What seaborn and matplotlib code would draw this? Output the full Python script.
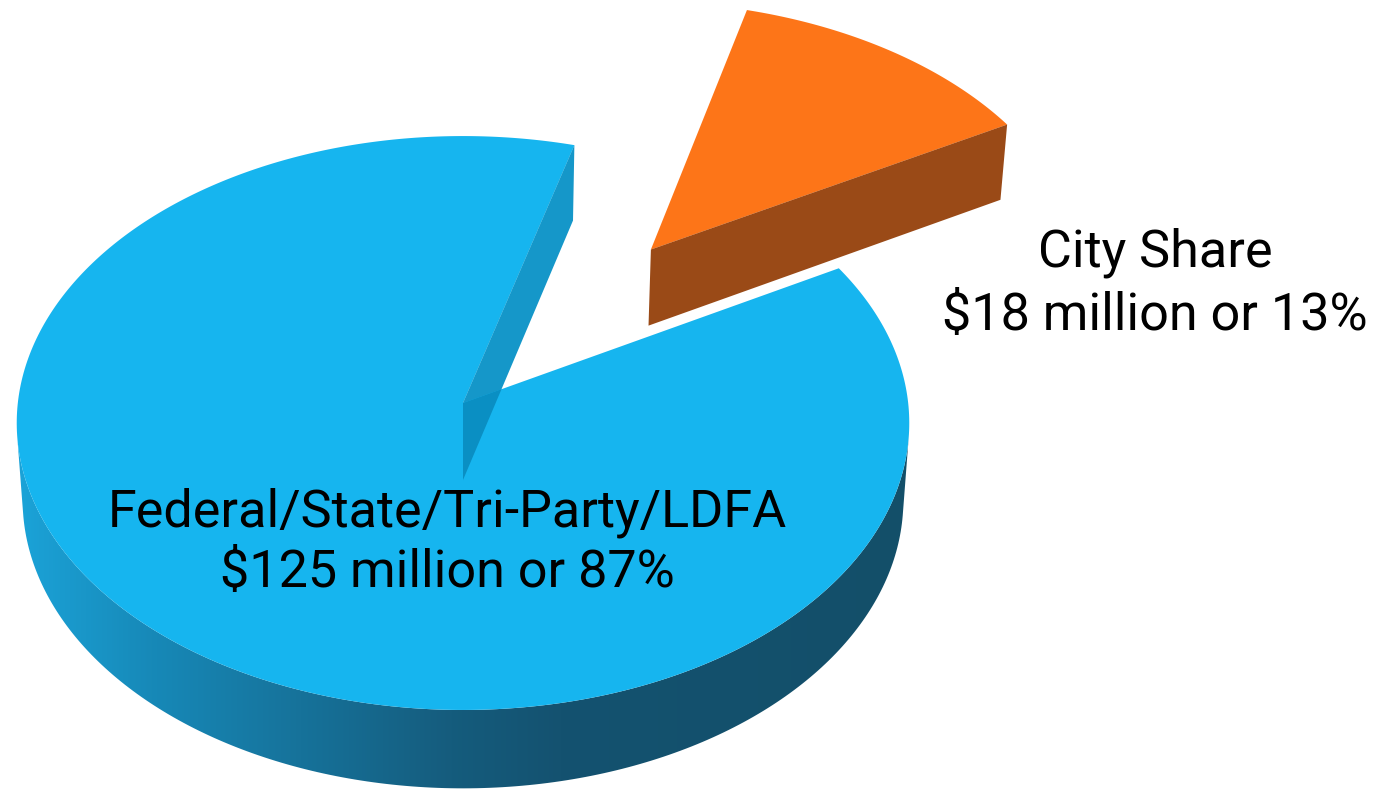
import numpy as np
import matplotlib
matplotlib.use("Agg")
import matplotlib.pyplot as plt
import seaborn as sns
from matplotlib.patches import Polygon
from matplotlib.colors import LinearSegmentedColormap

# ---------------- data ----------------
labels = ["City Share", "Federal/State/Tri-Party/LDFA"]
amounts = [18, 125]          # $ million
percents = [13, 87]          # as printed on the chart
explode = [0.71, 0.0]

# ---------------- style ----------------
top_colors = ["#FD7518", "#16B5EF"]
face_colors = ["#9A4A17", "#1597C9"]
face_dark = ["#9A4A17", "#0A8FC3"]
wall_solid = ["#9A4A17", None]
wall_grad_pos = [0.0, 17, 150, 300, 450, 560, 907, 1378]
wall_grad_col = ["#1BA3D8", "#1BA3D8", "#1789B8", "#16729A", "#155C7D",
                 "#145270", "#134F69", "#134F69"]
START = 29.2      # degrees, counter-clockwise
ELEV = 39.9       # viewing elevation
DIST = 11.0       # camera distance (pie radius = 1)
FOC = 4897.0      # focal length in px
THICK = 0.2285    # pie thickness (radius units)
CX, CY = 463.0, 403.0

sns.set_theme(style="white")
plt.rcParams["font.family"] = ["Roboto", "DejaVu Sans"]

W, H = 1378, 791
fig = plt.figure(figsize=(W / 100, H / 100), dpi=100)
ax = fig.add_axes([0, 0, 1, 1])
ax.set_xlim(0, W)
ax.set_ylim(H, 0)
ax.axis("off")

S = np.sin(np.radians(ELEV))
C = np.cos(np.radians(ELEV))
cam = np.array([0.0, -DIST * C, DIST * S])


def proj(X, Y, Z):
    X = np.atleast_1d(X).astype(float)
    Y = np.atleast_1d(Y).astype(float)
    Z = np.atleast_1d(Z).astype(float) * np.ones_like(X)
    yc = Y * S + Z * C
    d = DIST + Y * C - Z * S
    return np.column_stack([CX + FOC * X / d, CY - FOC * yc / d])


cmap = LinearSegmentedColormap.from_list(
    "wall", list(zip(np.array(wall_grad_pos) / W, wall_grad_col)))
grad = np.linspace(0, 1, 512)[None, :]

total = float(sum(amounts))
bounds = START + 360.0 * np.concatenate([[0], np.cumsum(amounts)]) / total

z = 1
for i in range(len(amounts)):
    a0, a1 = np.radians(bounds[i]), np.radians(bounds[i + 1])
    mid = 0.5 * (a0 + a1)
    ox, oy = explode[i] * np.cos(mid), explode[i] * np.sin(mid)
    th = np.linspace(a0, a1, 400)
    rimx, rimy = ox + np.cos(th), oy + np.sin(th)

    # radial cut faces
    faces = []
    for ang, sgn in [(a0, 1.0), (a1, -1.0)]:
        n = sgn * np.array([np.sin(ang), -np.cos(ang), 0.0])
        P = np.array([ox, oy, 0.0])
        if n @ (cam - P) > 0:
            ex, ey = ox + np.cos(ang), oy + np.sin(ang)
            pts = np.vstack([proj(ox, oy, 0), proj(ex, ey, 0),
                             proj(ex, ey, -THICK), proj(ox, oy, -THICK)])
            faces.append(pts)
            ax.add_patch(Polygon(pts, closed=True, facecolor=face_colors[i],
                                 edgecolor="none", zorder=z))
    z += 1

    # outer wall (front-facing part)
    vis = (-ox * np.cos(th) - oy * np.sin(th) - 1 - DIST * C * np.sin(th)) > 0
    if vis.any():
        idx = np.where(vis)[0]
        splits = np.split(idx, np.where(np.diff(idx) > 1)[0] + 1)
        for seg in splits:
            if len(seg) < 2:
                continue
            topp = proj(rimx[seg], rimy[seg], 0)
            botp = proj(rimx[seg], rimy[seg], -THICK)
            pts = np.vstack([topp, botp[::-1]])
            if wall_solid[i] is not None:
                ax.add_patch(Polygon(pts, closed=True, facecolor=wall_solid[i],
                                     edgecolor="none", zorder=z))
            else:
                wp = Polygon(pts, closed=True, fill=False, edgecolor="none",
                             zorder=z)
                ax.add_patch(wp)
                im = ax.imshow(grad, extent=[0, W, H, 0], cmap=cmap,
                               aspect="auto", zorder=z, interpolation="bilinear")
                im.set_clip_path(wp)
    z += 1

    # top face
    toppts = np.vstack([proj(ox, oy, 0), proj(rimx, rimy, 0)])
    top = Polygon(toppts, closed=True, facecolor=top_colors[i],
                  edgecolor="none", zorder=z)
    ax.add_patch(top)
    z += 1

    # part of the cut face seen through the top
    for pts in faces:
        p = Polygon(pts, closed=True, facecolor=face_dark[i],
                    edgecolor="none", zorder=z)
        ax.add_patch(p)
        p.set_clip_path(top)
    z += 1

ax.set_xlim(0, W)
ax.set_ylim(H, 0)

# labels
FS = 37.5
ax.text(447, 527, labels[1], ha="center", va="baseline", fontsize=FS,
        color="black", zorder=50)
ax.text(447, 587, f"${amounts[1]} million or {percents[1]}%", ha="center",
        va="baseline", fontsize=FS, color="black", zorder=50)
ax.text(1155, 267, labels[0], ha="center", va="baseline", fontsize=FS,
        color="black", zorder=50)
ax.text(1155, 330, f"${amounts[0]} million or {percents[0]}%", ha="center",
        va="baseline", fontsize=FS, color="black", zorder=50)

fig.savefig("out.png", dpi=100, facecolor="white")
